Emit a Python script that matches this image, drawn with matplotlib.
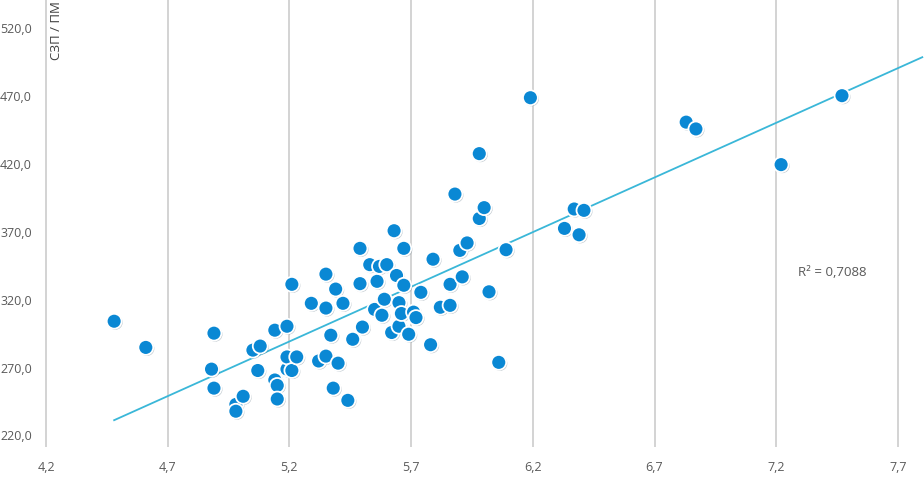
import numpy as np
import matplotlib
matplotlib.use("Agg")
import matplotlib.pyplot as plt
from matplotlib.ticker import FuncFormatter
import matplotlib.patheffects as pe

# points
x_vals = [4.48, 4.61, 4.89, 4.88, 4.89, 4.98, 4.98, 5.01, 5.05, 5.08,
          5.07, 5.14, 5.14, 5.15, 5.15, 5.19, 5.19, 5.19, 5.21, 5.21,
          5.23, 5.29, 5.32, 5.35, 5.35, 5.35, 5.37, 5.38, 5.39, 5.40,
          5.42, 5.44, 5.46, 5.49, 5.49, 5.50, 5.53, 5.56, 5.55, 5.57,
          5.58, 5.59, 5.60, 5.62, 5.63, 5.64, 5.65, 5.65, 5.66, 5.67,
          5.67, 5.69, 5.71, 5.72, 5.74, 5.78, 5.79, 5.82, 5.86, 5.86,
          5.88, 5.90, 5.91, 5.93, 5.98, 5.98, 6.00, 6.02, 6.06, 6.09,
          6.19, 6.33, 6.37, 6.39, 6.41, 6.83, 6.87, 7.22, 7.47]
y_vals = [305.3, 286.0, 296.5, 270.0, 256.0, 244.0, 239.0, 250.0, 284.0, 287.0,
          269.0, 298.7, 262.0, 258.0, 248.0, 270.0, 279.0, 301.6, 332.5, 269.0,
          279.0, 318.5, 276.0, 340.0, 315.0, 279.6, 295.0, 256.0, 329.0, 274.4,
          318.5, 247.0, 292.0, 333.0, 359.0, 301.0, 347.0, 334.7, 314.0, 345.7,
          309.7, 321.5, 347.0, 297.0, 372.0, 339.0, 319.0, 301.6, 311.0, 331.8,
          359.0, 295.7, 312.0, 308.0, 326.6, 288.0, 351.0, 315.6, 332.5, 317.0,
          399.0, 357.5, 338.0, 363.0, 428.8, 381.0, 389.0, 327.0, 275.0, 358.0,
          470.0, 373.7, 388.0, 369.0, 387.0, 452.0, 447.0, 420.7, 471.5]

x_ticks = [4.2, 4.7, 5.2, 5.7, 6.2, 6.7, 7.2, 7.7]
y_ticks = [220, 270, 320, 370, 420, 470, 520]
r2_text = "R² = 0,7088"
y_label = "СЗП / ПМ"

plt.rcParams['font.family'] = ['Open Sans', 'DejaVu Sans']

fig = plt.figure(figsize=(9.24, 4.95), dpi=100)
ax = fig.add_axes([43 / 924, 58 / 495, 881 / 924, 437 / 495])

x = np.array(x_vals)
y = np.array(y_vals)

# linear trend, extended forward like the spreadsheet trendline
k, b = np.polyfit(x, y, 1)
tx = np.array([x.min(), 7.8])
ax.plot(tx, k * tx + b, color='#3ab7d8', lw=1.3, zorder=2)

ax.scatter(x, y, s=115, color='#0a88d4', edgecolors='white', linewidths=1.3, zorder=3,
           path_effects=[pe.SimplePatchShadow(offset=(0.8, -0.8), alpha=0.25), pe.Normal()])

ax.set_xlim(4.2 - 3 / 243.4, 7.807)
ax.set_ylim(220, 542)
ax.set_xticks(x_ticks)
ax.set_yticks(y_ticks)
ax.xaxis.set_major_formatter(FuncFormatter(lambda v, p: f"{v:.1f}".replace('.', ',')))
ax.yaxis.set_major_formatter(FuncFormatter(lambda v, p: f"{v:.1f}".replace('.', ',')))

ax.grid(axis='x', color='#d0d0d0', lw=1.3, zorder=0)
for s in ax.spines.values():
    s.set_visible(False)
ax.tick_params(axis='x', length=7, width=1.3, color='#d0d0d0', labelcolor='#595959',
               labelsize=9, pad=10)
ax.tick_params(axis='y', length=0, labelcolor='#595959', labelsize=9, pad=8)
for lab in ax.get_yticklabels():
    lab.set_verticalalignment('center')

ax.text(798 / 924, 1 - 273 / 495, r2_text, transform=fig.transFigure,
        fontsize=9.5, color='#595959', va='center', ha='left')
fig.text(56 / 924, 0.997, y_label, rotation=90, fontsize=9.5, color='#404040',
         va='top', ha='center')

fig.savefig("out.png", dpi=100)
